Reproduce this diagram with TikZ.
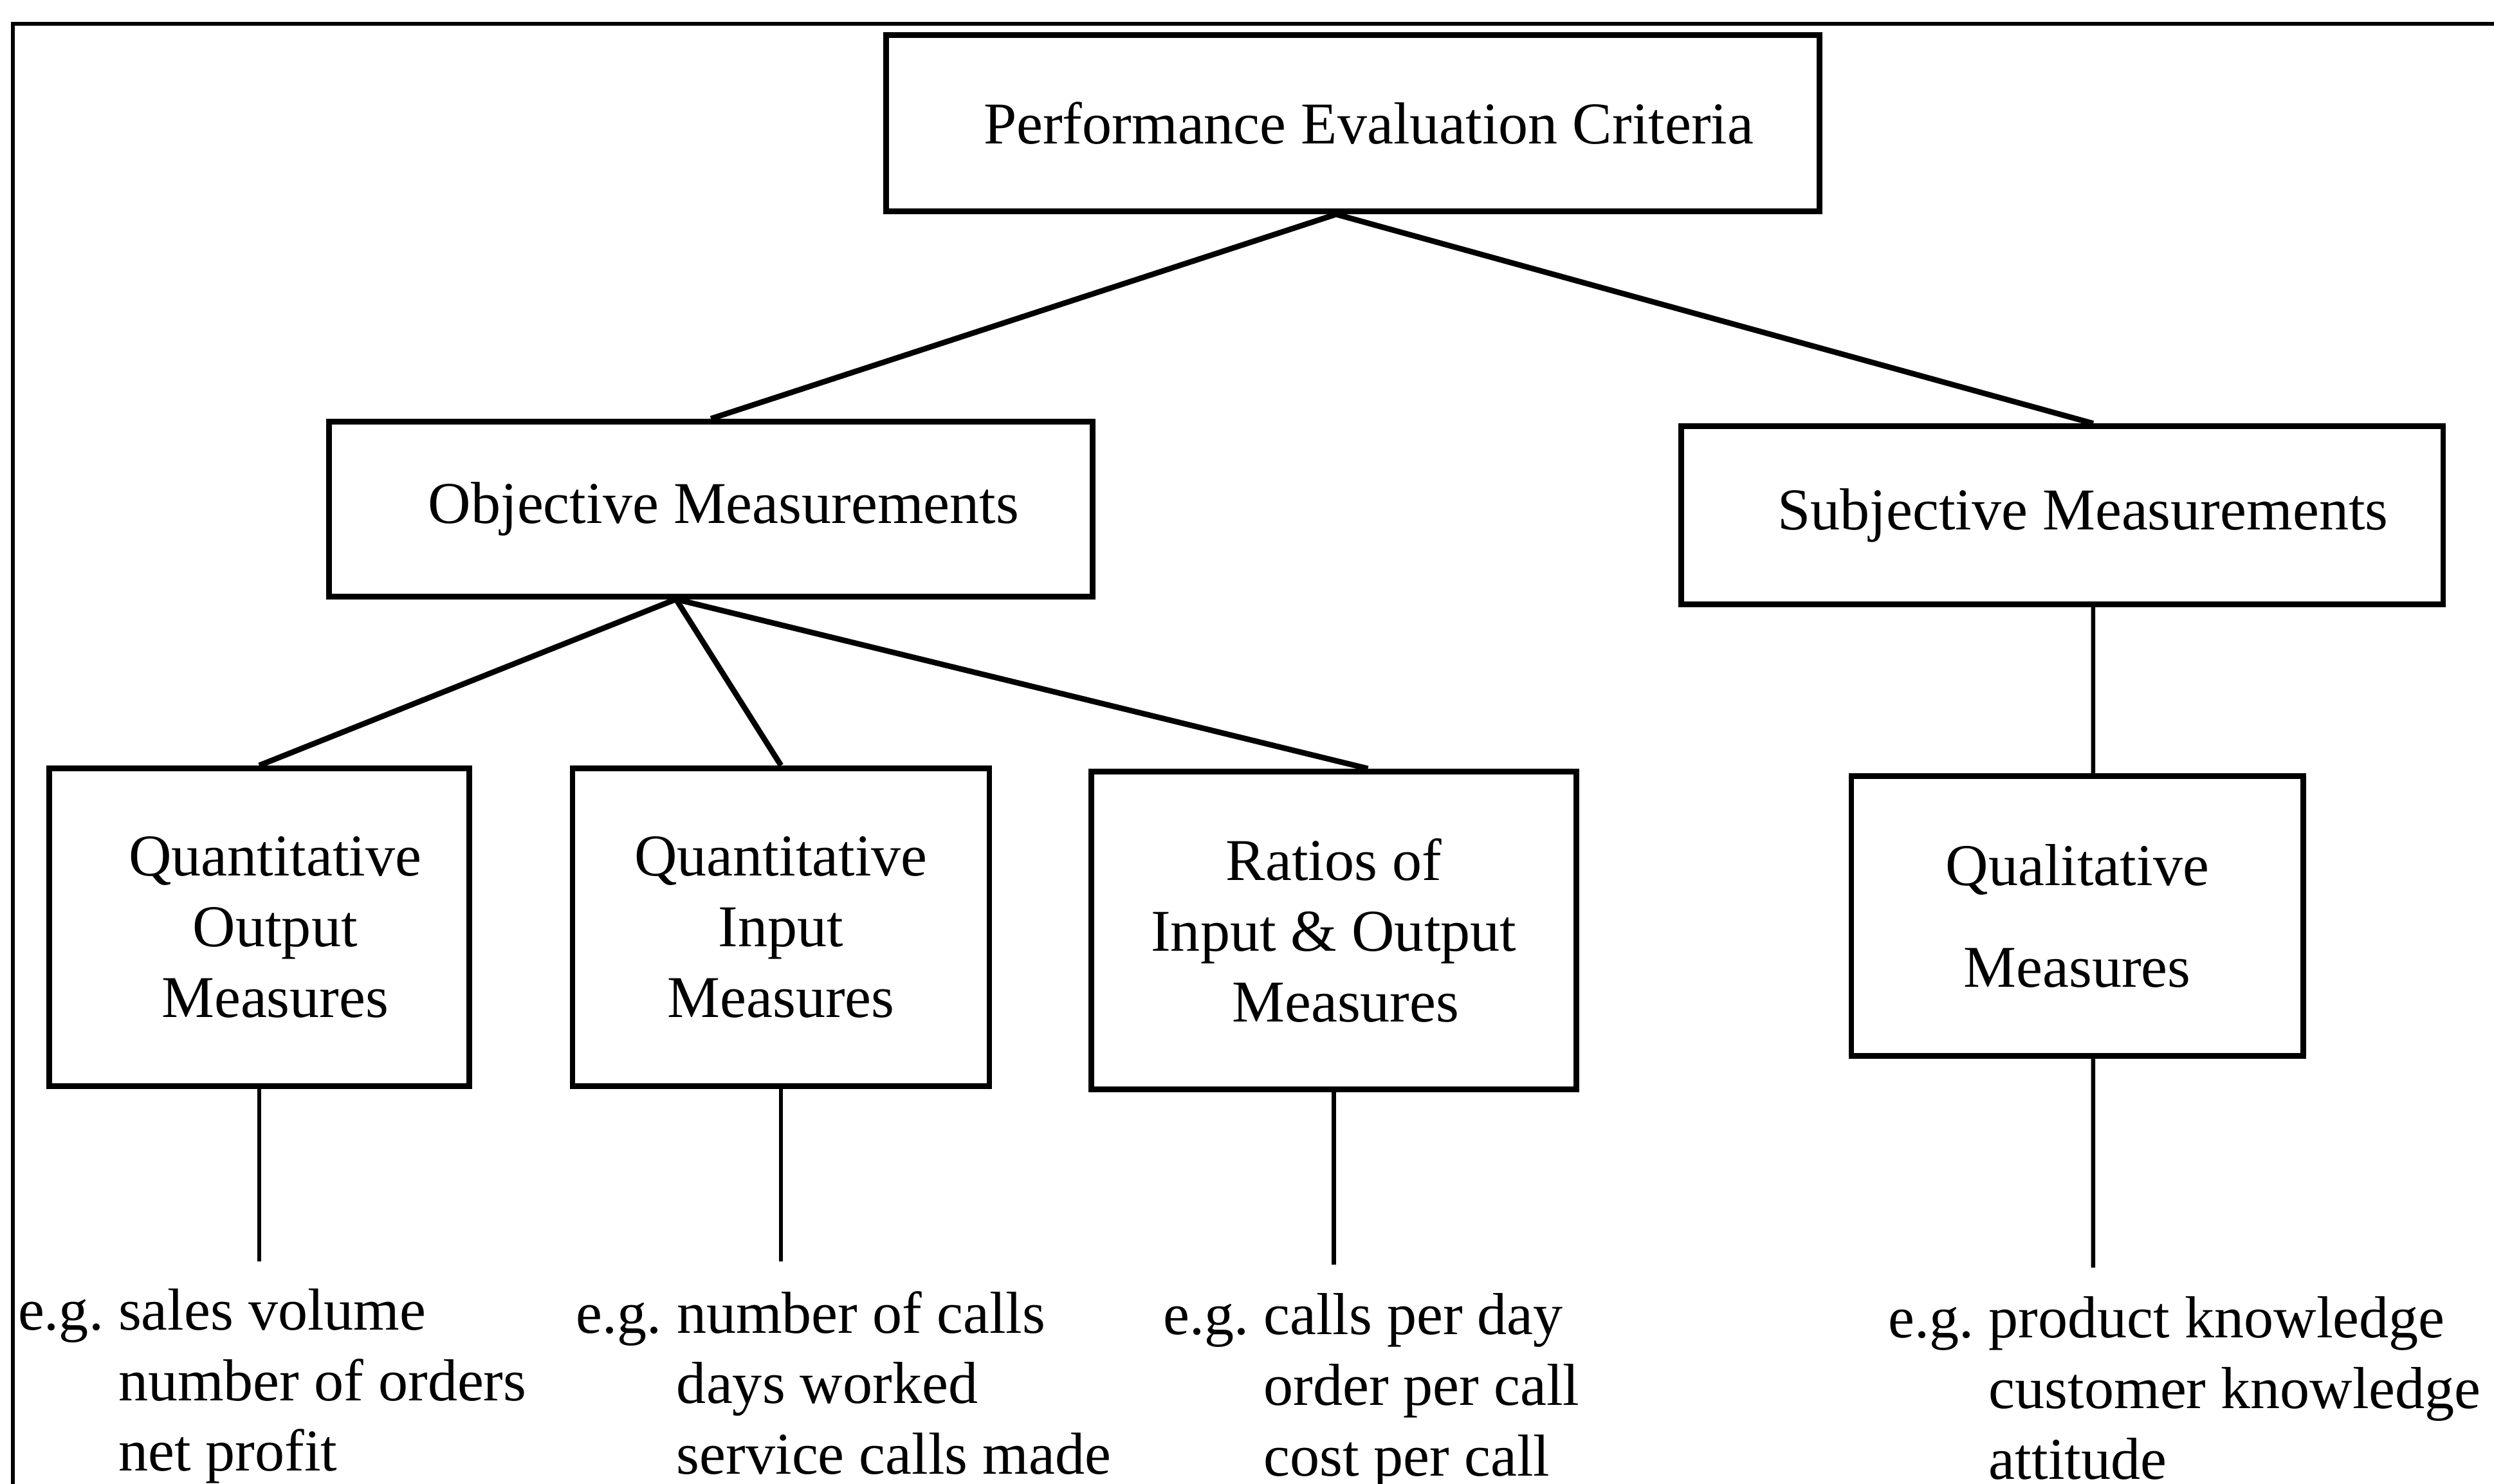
\documentclass[tikz,border=0pt]{standalone}
\usepackage{fontspec}
\setmainfont{Liberation Serif}
\usepackage{tikz}

\begin{document}
\begin{tikzpicture}[font=\fontsize{21.2pt}{25.3pt}\selectfont,
    box/.style={draw, line width=2pt, inner sep=0pt, align=center},
    link/.style={line width=2pt},
    drop/.style={line width=1.5pt},
    example/.style={anchor=base west, inner sep=0pt}]
        \useasboundingbox (0,0) rectangle (31.36,-18.66);
        % Outer frame (only top and left edge are visible)
        \draw[line width=1.5pt] (31.36,-0.30) -- (0.16,-0.30) -- (0.16,-18.66);

        % Draw the boxes
        \node[box, minimum width=11.74cm, minimum height=2.22cm] (crit) at (17.01,-1.55) {\hspace*{0.4cm}Performance Evaluation Criteria};
        \node[box, minimum width=9.60cm, minimum height=2.20cm] (obj) at (8.94,-6.40) {\hspace*{0.32cm}Objective Measurements};
        \node[box, minimum width=9.58cm, minimum height=2.24cm] (subj) at (25.93,-6.48) {\hspace*{0.52cm}Subjective Measurements};
        \node[box, minimum width=5.28cm, minimum height=4.00cm] (qout) at (3.26,-11.66) {\hspace*{0.4cm}Quantitative\\\hspace*{0.4cm}Output\\\hspace*{0.4cm}Measures};
        \node[box, minimum width=5.24cm, minimum height=4.00cm] (qin) at (9.82,-11.66) {Quantitative\\Input\\Measures};
        \node[box, minimum width=6.10cm, minimum height=4.00cm] (ratio) at (16.77,-11.70) {Ratios of\\Input \& Output\\\hspace*{0.3cm}Measures};
        \node[box, minimum width=5.68cm, minimum height=3.52cm] (qual) at (26.12,-11.52) {Qualitative\\[11pt]Measures};

        % Draw the examples
        \node[example] (egout) at (0.22,-16.72) {\begin{tabular}[t]{@{}l@{\ }l}e.g. & sales volume\\ & number of orders\\ & net profit\end{tabular}};
        \node[example] (egin) at (7.24,-16.76) {\begin{tabular}[t]{@{}l@{\ }l}e.g. & number of calls\\ & days worked\\ & service calls made\end{tabular}};
        \node[example] (egratio) at (14.62,-16.78) {\begin{tabular}[t]{@{}l@{\ }l}e.g. & calls per day\\ & order per call\\ & cost per call\end{tabular}};
        \node[example] (egqual) at (23.74,-16.82) {\begin{tabular}[t]{@{}l@{\ }l}e.g. & product knowledge\\ & customer knowledge\\ & attitude\end{tabular}};

        % Ends of the drop lines
        \coordinate (dout) at (3.26,-15.86);
        \coordinate (din) at (9.82,-15.86);
        \coordinate (dratio) at (16.77,-15.90);
        \coordinate (dqual) at (26.32,-15.94);

        % Draw the links
        \draw[link] ([xshift=-0.21cm]crit.south) -- (obj.north);
        \draw[link] ([xshift=-0.21cm]crit.south) -- ([xshift=0.39cm]subj.north);
        \draw[link] ([xshift=-0.44cm]obj.south) -- (qout.north);
        \draw[link] ([xshift=-0.44cm]obj.south) -- (qin.north);
        \draw[link] ([xshift=-0.44cm]obj.south) -- ([xshift=0.43cm]ratio.north);
        \draw[drop] ([xshift=0.39cm]subj.south) -- ([xshift=0.2cm]qual.north);
        \draw[drop] (qout.south) -- (dout);
        \draw[drop] (qin.south) -- (din);
        \draw[drop] (ratio.south) -- (dratio);
        \draw[drop] ([xshift=0.2cm]qual.south) -- (dqual);
    \end{tikzpicture}
\end{document}
